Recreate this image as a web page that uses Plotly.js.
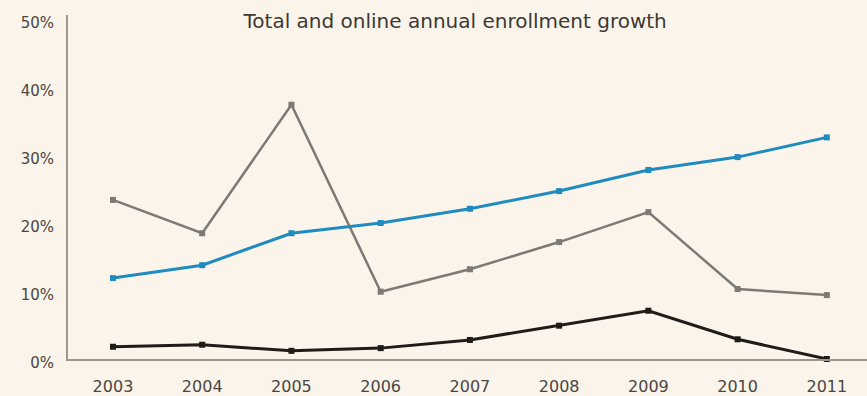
<!DOCTYPE html>
<html><head><meta charset="utf-8">
<script src="https://cdn.plot.ly/plotly-3.0.1.min.js"></script>
<style>html,body{margin:0;padding:0;background:#faf4ea;}#chart{width:867px;height:396px;}</style>
</head><body><div id="chart"></div>
<script>
const years = [2003, 2004, 2005, 2006, 2007, 2008, 2009, 2010, 2011];
const grayValues = [23.4, 18.5, 37.4, 9.9, 13.2, 17.2, 21.6, 10.3, 9.4];
const blueValues = [11.9, 13.8, 18.5, 20.0, 22.1, 24.7, 27.8, 29.7, 32.6];
const blackValues = [1.8, 2.1, 1.2, 1.6, 2.8, 4.9, 7.1, 2.9, 0.0];
const yTickVals = [0, 10, 20, 30, 40, 50];
const yTickText = ['0%', '10%', '20%', '30%', '40%', '50%'];

function series(y, color, width) {
  return {x: years, y: y, type: 'scatter', mode: 'lines+markers',
    line: {color: color, width: width},
    marker: {symbol: 'square', size: 6, color: color},
    hoverinfo: 'skip', cliponaxis: false};
}
const data = [
  series(grayValues, '#7d7975', 2.5),
  series(blueValues, '#1f8bbf', 3),
  series(blackValues, '#1e1b19', 3)
];
const fam = '"DejaVu Sans", sans-serif';
const layout = {
  width: 867, height: 396,
  paper_bgcolor: '#faf4ea', plot_bgcolor: '#faf4ea',
  margin: {l: 68, r: 0, t: 15, b: 37},
  showlegend: false,
  font: {family: fam, color: '#4a4643'},
  title: {text: 'Total and online annual enrollment growth', x: 0.525, xanchor: 'center', y: 0.948, yanchor: 'middle',
    font: {family: fam, size: 20, color: '#3c3936'}},
  xaxis: {range: [2002.496, 2011.45], tickvals: years, ticktext: years.map(String),
    showgrid: false, zeroline: false, showline: true, linecolor: '#9b9690', linewidth: 2,
    ticks: '', ticklabelstandoff: 12, tickfont: {size: 16, color: '#4a4643', family: fam}},
  yaxis: {range: [0, 50.6], tickvals: yTickVals, ticktext: yTickText,
    showgrid: false, zeroline: false, showline: true, linecolor: '#9b9690', linewidth: 2,
    ticks: '', ticklabelstandoff: 9, ticklabelshift: 4, tickfont: {size: 15, color: '#4a4643', family: fam}}
};
Plotly.newPlot('chart', data, layout, {displayModeBar: false, staticPlot: true});
</script>
</body></html>
